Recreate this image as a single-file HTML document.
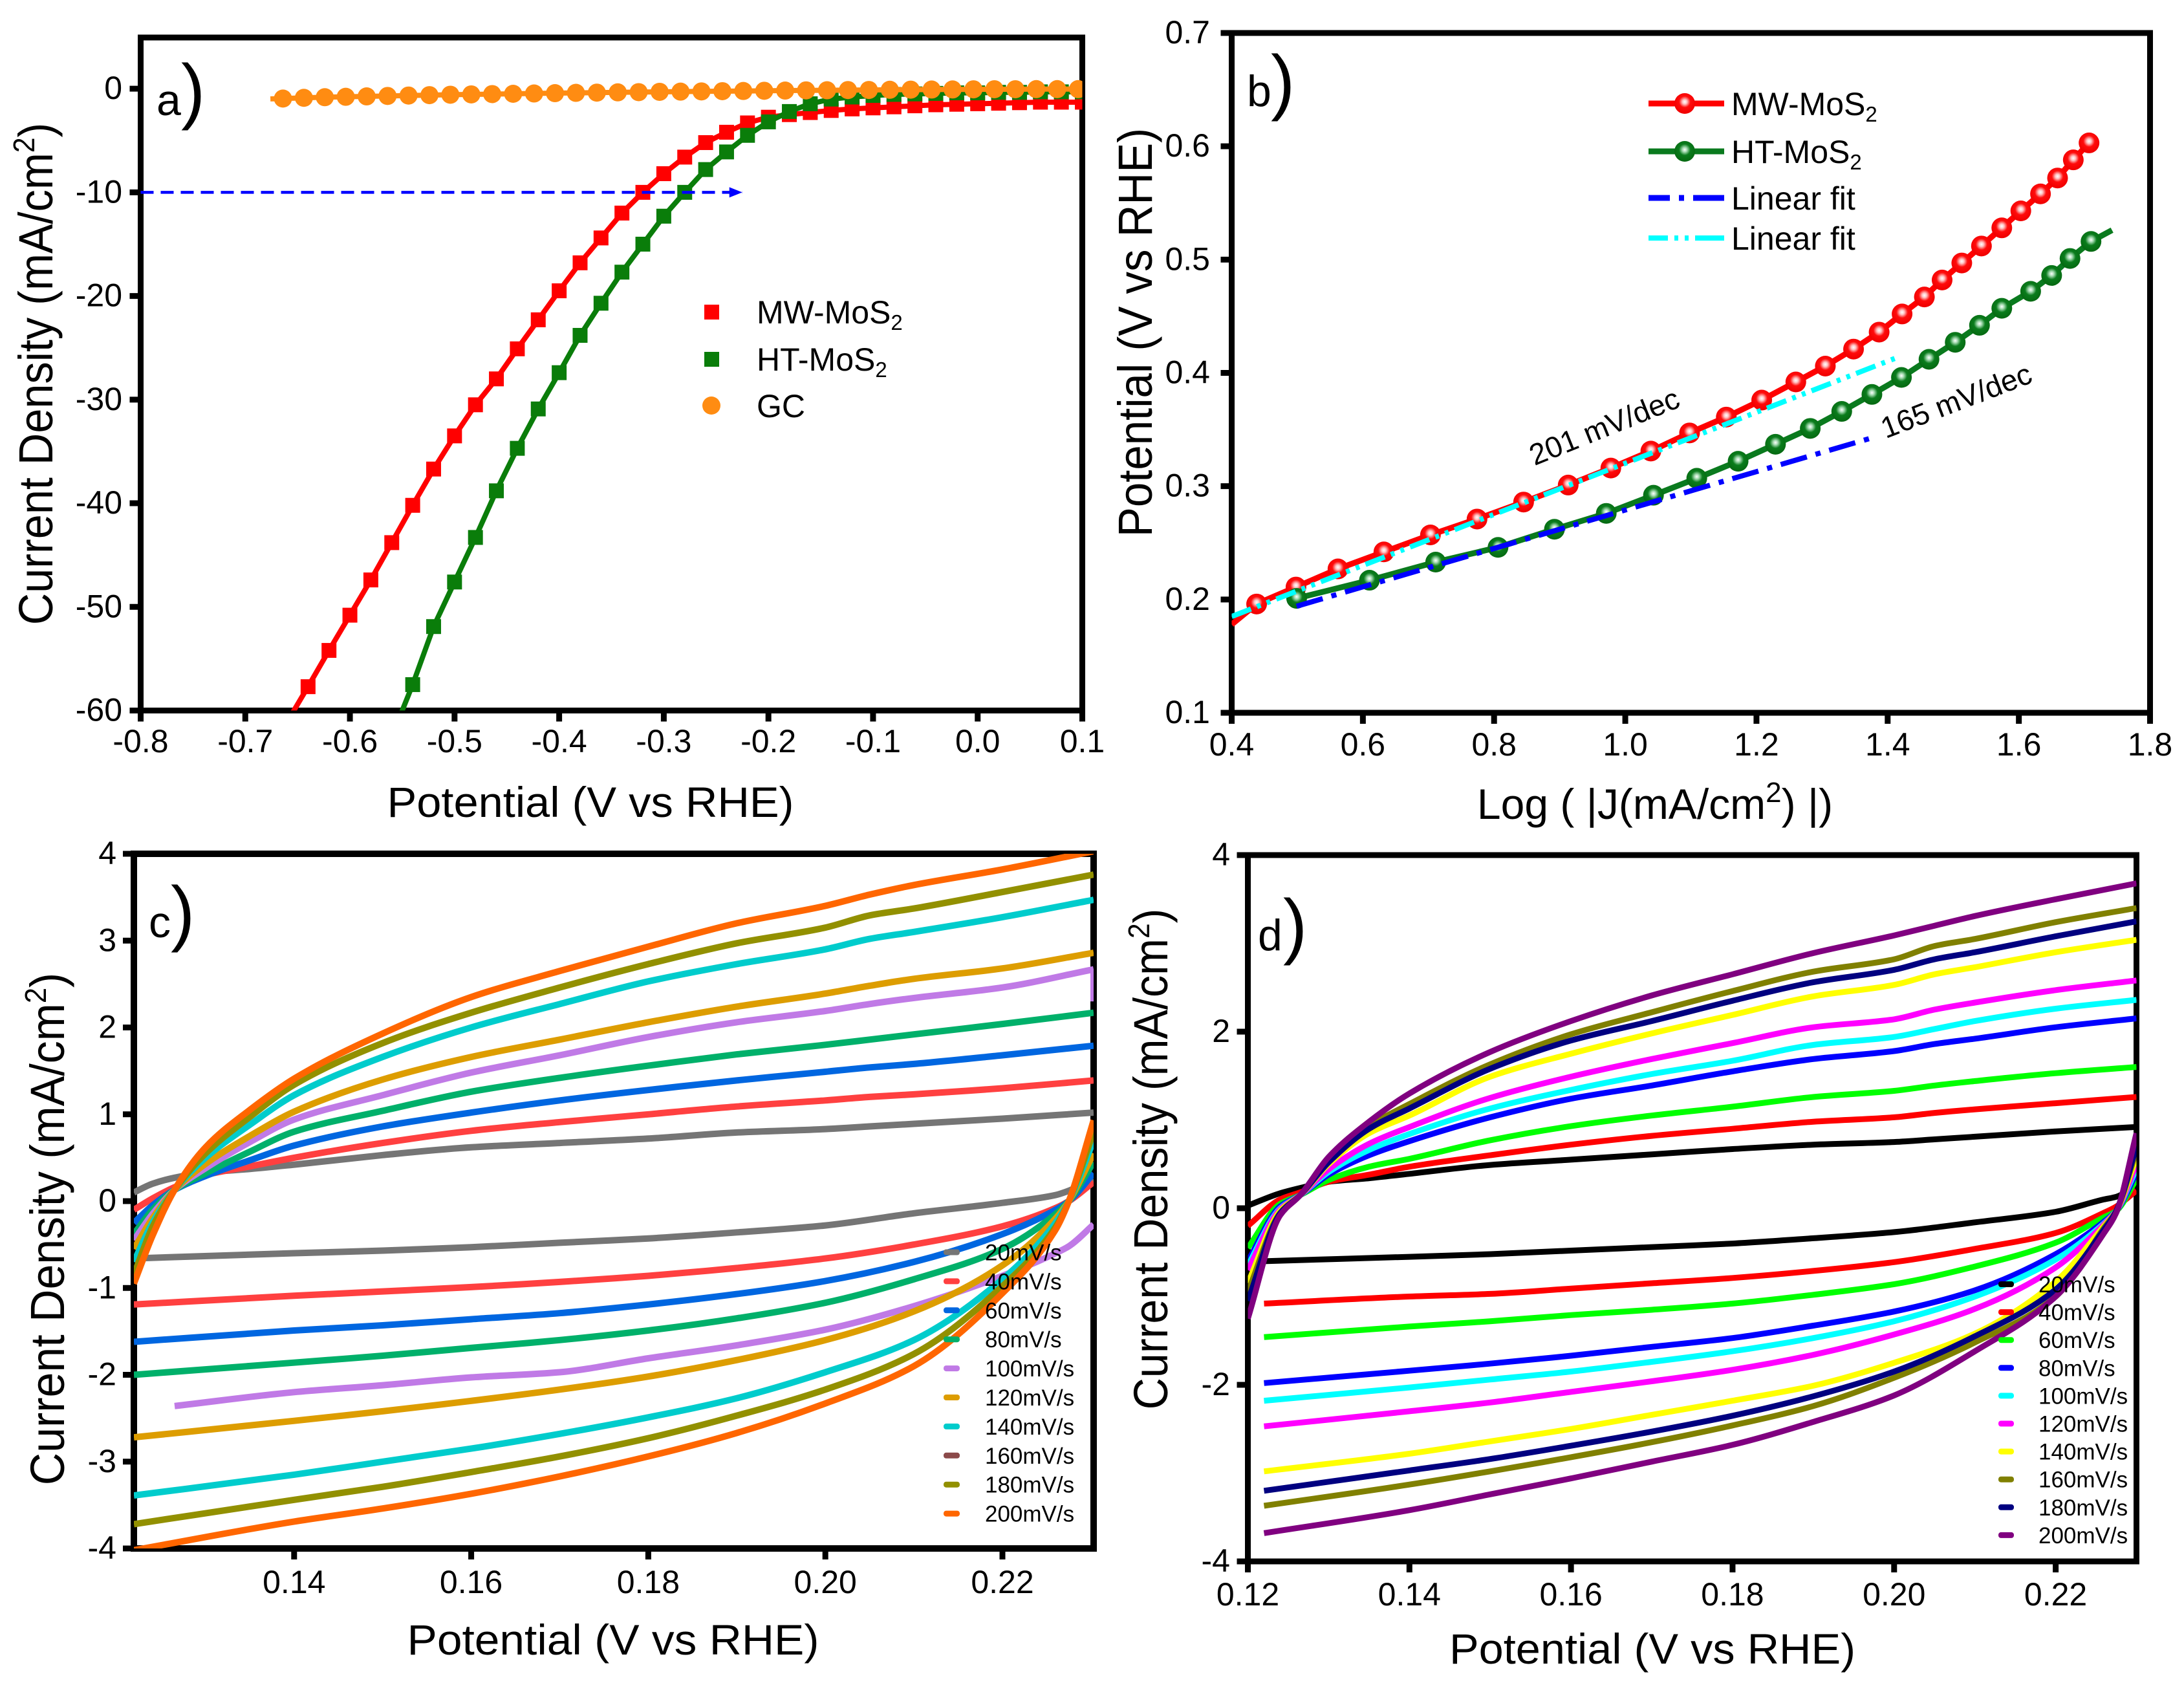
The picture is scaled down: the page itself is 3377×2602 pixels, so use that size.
<!DOCTYPE html>
<html lang="en">
<head>
<meta charset="utf-8">
<title>Electrochemical characterisation of MoS2</title>
<style>
html,body{margin:0;padding:0;background:#fff}
svg{display:block}
text{font-family:"Liberation Sans",Arial,sans-serif;fill:#000}
</style>
</head>
<body>
<svg id="figure" xmlns="http://www.w3.org/2000/svg" width="3377" height="2602" viewBox="0 0 3377 2602">
<defs>
<radialGradient id="redBall" cx="0.5" cy="0.42" r="0.55">
<stop offset="0" stop-color="#ffffff"/><stop offset="0.2" stop-color="#ffc4c4"/><stop offset="0.5" stop-color="#ff0c0c"/><stop offset="1" stop-color="#f00000"/>
</radialGradient>
<radialGradient id="greenBall" cx="0.5" cy="0.42" r="0.55">
<stop offset="0" stop-color="#ffffff"/><stop offset="0.2" stop-color="#a8dcb4"/><stop offset="0.5" stop-color="#0a7c1c"/><stop offset="1" stop-color="#066a12"/>
</radialGradient>
<clipPath id="clipA"><rect x="217.5" y="58" width="1456" height="1040.5"/></clipPath>
<clipPath id="clipB"><rect x="1904.5" y="51" width="1420" height="1051"/></clipPath>
<clipPath id="clipC"><rect x="207" y="1320" width="1484" height="1074"/></clipPath>
<clipPath id="clipD"><rect x="1929.5" y="1322" width="1374" height="1092"/></clipPath>
</defs>

<g id="panelA"></g>
<g id="panelB"></g>
<g id="panelC"></g>
<g id="panelD"></g>

<!-- axis titles -->
<text x="913" y="1263" font-size="66" text-anchor="middle" textLength="629" lengthAdjust="spacingAndGlyphs">Potential (V vs RHE)</text>
<text transform="translate(81,578) rotate(-90) scale(0.925,1)" font-size="74" text-anchor="middle">Current Density (mA/cm<tspan font-size="46" dy="-28">2</tspan><tspan dy="28">)</tspan></text>

<text x="2559" y="1266" font-size="66" text-anchor="middle">Log ( |J(mA/cm<tspan font-size="44" dy="-26">2</tspan><tspan dy="26">) |)</tspan></text>
<text x="0" y="0" transform="translate(1781,514) rotate(-90) scale(0.932,1)" font-size="74" text-anchor="middle">Potential (V vs RHE)</text>

<text x="948" y="2558" font-size="66" text-anchor="middle" textLength="637" lengthAdjust="spacingAndGlyphs">Potential (V vs RHE)</text>
<text transform="translate(99,1900) rotate(-90) scale(0.944,1)" font-size="74" text-anchor="middle">Current Density (mA/cm<tspan font-size="46" dy="-28">2</tspan><tspan dy="28">)</tspan></text>

<text x="2555" y="2572" font-size="66" text-anchor="middle" textLength="628" lengthAdjust="spacingAndGlyphs">Potential (V vs RHE)</text>
<text transform="translate(1805,1792) rotate(-90) scale(0.923,1)" font-size="74" text-anchor="middle">Current Density (mA/cm<tspan font-size="46" dy="-28">2</tspan><tspan dy="28">)</tspan></text>

<!-- panel letters -->
<g><text x="242" y="178" font-size="68">a</text><text x="280" y="178" font-size="112">)</text></g>
<g><text x="1928" y="164" font-size="68">b</text><text x="1965" y="164" font-size="112">)</text></g>
<g><text x="230" y="1449" font-size="68">c</text><text x="264" y="1449" font-size="112">)</text></g>
<g><text x="1945" y="1469" font-size="68">d</text><text x="1984" y="1469" font-size="112">)</text></g>

<!-- panel a legend -->
<g>
<rect x="1089" y="471" width="23" height="23" fill="#ff0000"/>
<text x="1170" y="500" font-size="50">MW-MoS<tspan font-size="33" dy="10">2</tspan></text>
<rect x="1089" y="544" width="23" height="23" fill="#0a7d0a"/>
<text x="1170" y="573" font-size="50">HT-MoS<tspan font-size="33" dy="10">2</tspan></text>
<circle cx="1100" cy="627" r="14" fill="#ff8c12"/>
<text x="1170" y="645" font-size="50">GC</text>
</g>

<!-- panel b legend -->
<g>
<line x1="2549" x2="2666" y1="160" y2="160" stroke="#ff0000" stroke-width="9"/>
<circle cx="2605" cy="160" r="16" fill="url(#redBall)"/>
<text x="2677" y="178" font-size="50">MW-MoS<tspan font-size="33" dy="10">2</tspan></text>
<line x1="2549" x2="2666" y1="234" y2="234" stroke="#0a7a1e" stroke-width="9"/>
<circle cx="2605" cy="234" r="16" fill="url(#greenBall)"/>
<text x="2677" y="252" font-size="50">HT-MoS<tspan font-size="33" dy="10">2</tspan></text>
<line x1="2549" x2="2666" y1="306" y2="306" stroke="#0000ff" stroke-width="9" stroke-dasharray="33 14 8 14 48"/>
<text x="2677" y="324" font-size="50">Linear fit</text>
<line x1="2549" x2="2666" y1="368" y2="368" stroke="#00ffff" stroke-width="8" stroke-dasharray="30 10 6 10 6 10 45"/>
<text x="2677" y="386" font-size="50">Linear fit</text>
</g>

<!-- panel b annotations -->
<text transform="translate(2482,663) rotate(-22)" font-size="46" text-anchor="middle" dominant-baseline="middle">201 mV/dec</text>
<text transform="translate(3026,623) rotate(-21)" font-size="46" text-anchor="middle" dominant-baseline="middle">165 mV/dec</text>

<script>
// ---------- Panel a data ----------
const aXTickVals = [-0.8,-0.7,-0.6,-0.5,-0.4,-0.3,-0.2,-0.1,0.0,0.1];
const aXTickLabels = ['-0.8','-0.7','-0.6','-0.5','-0.4','-0.3','-0.2','-0.1','0.0','0.1'];
const aYTickVals = [0,-10,-20,-30,-40,-50,-60];
const aYTickLabels = ['0','-10','-20','-30','-40','-50','-60'];
const mwPotential = [-0.66,-0.64,-0.62,-0.60,-0.58,-0.56,-0.54,-0.52,-0.50,-0.48,-0.46,-0.44,-0.42,-0.40,-0.38,-0.36,-0.34,-0.32,-0.30,-0.28,-0.26,-0.24,-0.22,-0.20,-0.18,-0.16,-0.14,-0.12,-0.10,-0.08,-0.06,-0.04,-0.02,0,0.02,0.04,0.06,0.08,0.10];
const mwCurrent = [-61.1,-57.7,-54.2,-50.8,-47.4,-43.8,-40.2,-36.7,-33.5,-30.5,-28,-25.1,-22.3,-19.5,-16.8,-14.4,-12,-10,-8.2,-6.6,-5.2,-4.2,-3.3,-2.75,-2.5,-2.3,-2.1,-1.95,-1.85,-1.75,-1.65,-1.55,-1.5,-1.45,-1.4,-1.35,-1.3,-1.3,-1.3];
const htPotential = [-0.56,-0.54,-0.52,-0.50,-0.48,-0.46,-0.44,-0.42,-0.40,-0.38,-0.36,-0.34,-0.32,-0.30,-0.28,-0.26,-0.24,-0.22,-0.20,-0.18,-0.16,-0.14,-0.12,-0.10,-0.08,-0.06,-0.04,-0.02,0,0.02,0.04,0.06,0.08,0.10];
const htCurrent = [-62.5,-57.5,-51.9,-47.6,-43.3,-38.8,-34.7,-30.9,-27.4,-23.8,-20.7,-17.7,-15,-12.3,-10,-7.8,-6.1,-4.5,-3.2,-2.2,-1.45,-1,-0.8,-0.65,-0.55,-0.5,-0.45,-0.4,-0.4,-0.35,-0.35,-0.3,-0.3,-0.3];
const gcPotential = [-0.664,-0.644,-0.624,-0.604,-0.584,-0.564,-0.544,-0.524,-0.504,-0.484,-0.464,-0.444,-0.424,-0.404,-0.384,-0.364,-0.344,-0.324,-0.304,-0.284,-0.264,-0.244,-0.224,-0.204,-0.184,-0.164,-0.144,-0.124,-0.104,-0.084,-0.064,-0.044,-0.024,-0.004,0.016,0.036,0.056,0.076,0.096];
const gcCurrent = [-0.95,-0.88,-0.82,-0.78,-0.74,-0.7,-0.66,-0.62,-0.58,-0.55,-0.52,-0.49,-0.46,-0.43,-0.4,-0.38,-0.35,-0.33,-0.3,-0.28,-0.26,-0.24,-0.22,-0.2,-0.18,-0.16,-0.15,-0.13,-0.12,-0.1,-0.09,-0.08,-0.07,-0.06,-0.05,-0.05,-0.04,-0.04,-0.04];
const arrowPotential = [-0.8,-0.225];
const arrowCurrent = [-10,-10];

// ---------- Panel b data ----------
const bXTickVals = [0.4,0.6,0.8,1.0,1.2,1.4,1.6,1.8];
const bXTickLabels = ['0.4','0.6','0.8','1.0','1.2','1.4','1.6','1.8'];
const bYTickVals = [0.1,0.2,0.3,0.4,0.5,0.6,0.7];
const bYTickLabels = ['0.1','0.2','0.3','0.4','0.5','0.6','0.7'];
const mwLogJ = [0.438,0.498,0.562,0.632,0.703,0.774,0.845,0.913,0.978,1.039,1.098,1.154,1.208,1.26,1.305,1.348,1.387,1.422,1.456,1.483,1.513,1.543,1.574,1.603,1.633,1.659,1.683,1.707];
const mwEta = [0.196,0.211,0.227,0.242,0.257,0.271,0.286,0.301,0.316,0.331,0.347,0.361,0.376,0.392,0.406,0.421,0.436,0.452,0.467,0.482,0.497,0.512,0.528,0.543,0.558,0.572,0.588,0.603];
const mwLeadLogJ = [0.4];
const mwLeadEta = [0.178];
const htLogJ = [0.499,0.61,0.711,0.806,0.892,0.971,1.043,1.109,1.172,1.229,1.282,1.33,1.376,1.421,1.463,1.503,1.54,1.574,1.618,1.65,1.678,1.71];
const htEta = [0.201,0.217,0.233,0.246,0.262,0.276,0.292,0.307,0.322,0.337,0.351,0.366,0.381,0.396,0.412,0.427,0.442,0.457,0.472,0.486,0.501,0.516];
const htTailLogJ = [1.742];
const htTailEta = [0.526];
const blueFitLogJ = [0.499,1.372];
const blueFitEta = [0.194,0.342];
const cyanFitLogJ = [0.4,1.412];
const cyanFitEta = [0.185,0.413];

// ---------- Panel c data ----------
const cXTickVals = [0.14,0.16,0.18,0.20,0.22];
const cXTickLabels = ['0.14','0.16','0.18','0.20','0.22'];
const cYTickVals = [-4,-3,-2,-1,0,1,2,3,4];
const cYTickLabels = ['-4','-3','-2','-1','0','1','2','3','4'];
const cLegendLabels = ['20mV/s','40mV/s','60mV/s','80mV/s','100mV/s','120mV/s','140mV/s','160mV/s','180mV/s','200mV/s'];
const cUpperX = [0.1219,0.124,0.1265,0.13,0.135,0.14,0.15,0.16,0.17,0.18,0.19,0.20,0.205,0.21,0.22,0.2303];
const cLowerX = [0.1219,0.14,0.15,0.16,0.17,0.18,0.19,0.20,0.21,0.22,0.226,0.2275,0.2303];
const c100LowerX = [0.1265,0.14,0.15,0.16,0.17,0.18,0.19,0.20,0.21,0.22,0.226,0.2275,0.2303];
const c100HookX = [0.2303,0.2303];
const c100HookY = [2.67,2.3];
const cUp20 = [0.1,0.2,0.27,0.33,0.37,0.42,0.53,0.62,0.67,0.72,0.79,0.83,0.86,0.89,0.95,1.02];
const cUp40 = [-0.1,0.03,0.16,0.3,0.4,0.5,0.67,0.81,0.91,1.0,1.09,1.16,1.2,1.23,1.3,1.39];
const cUp60 = [-0.25,-0.05,0.13,0.29,0.47,0.64,0.86,1.02,1.16,1.28,1.39,1.49,1.54,1.58,1.68,1.79];
const cUp80 = [-0.38,-0.1,0.13,0.32,0.57,0.8,1.04,1.26,1.42,1.56,1.69,1.8,1.86,1.92,2.04,2.17];
const cUp100 = [-0.45,-0.15,0.13,0.38,0.68,0.94,1.22,1.48,1.68,1.89,2.06,2.19,2.27,2.34,2.46,2.67];
const cUp120 = [-0.55,-0.2,0.13,0.43,0.75,1.03,1.4,1.66,1.86,2.06,2.24,2.39,2.48,2.56,2.68,2.86];
const cUp140 = [-0.7,-0.25,0.13,0.5,0.88,1.22,1.66,2.0,2.27,2.53,2.73,2.9,3.02,3.1,3.27,3.47];
const cUp180 = [-0.85,-0.3,0.13,0.55,0.97,1.34,1.82,2.17,2.46,2.73,2.97,3.15,3.29,3.37,3.56,3.76];
const cUp200 = [-0.95,-0.4,0.13,0.62,1.05,1.41,1.93,2.35,2.65,2.93,3.2,3.4,3.53,3.64,3.82,4.03];
const cLow20 = [-0.66,-0.6,-0.57,-0.53,-0.48,-0.43,-0.36,-0.28,-0.14,-0.02,0.07,0.12,0.25];
const cLow40 = [-1.19,-1.09,-1.04,-0.99,-0.93,-0.86,-0.77,-0.66,-0.5,-0.29,-0.08,0,0.22];
const cLow60 = [-1.62,-1.49,-1.43,-1.36,-1.29,-1.19,-1.07,-0.92,-0.7,-0.38,-0.1,0,0.32];
const cLow80 = [-2.0,-1.86,-1.78,-1.69,-1.6,-1.49,-1.35,-1.17,-0.9,-0.55,-0.15,0,0.45];
const cLow100 = [-2.36,-2.2,-2.12,-2.03,-1.97,-1.81,-1.66,-1.48,-1.21,-0.86,-0.6,-0.52,-0.27];
const cLow120 = [-2.72,-2.53,-2.42,-2.3,-2.17,-2.02,-1.83,-1.6,-1.27,-0.74,-0.2,0,0.55];
const cLow140 = [-3.39,-3.15,-3.0,-2.85,-2.68,-2.49,-2.27,-1.97,-1.6,-0.9,-0.25,0,0.7];
const cLow180 = [-3.72,-3.44,-3.29,-3.12,-2.94,-2.73,-2.47,-2.17,-1.76,-0.98,-0.3,0,0.8];
const cLow200 = [-4.02,-3.69,-3.54,-3.37,-3.17,-2.94,-2.67,-2.33,-1.9,-1.06,-0.33,0,0.93];

// ---------- Panel d data ----------
const dXTickVals = [0.12,0.14,0.16,0.18,0.20,0.22];
const dXTickLabels = ['0.12','0.14','0.16','0.18','0.20','0.22'];
const dYTickVals = [-4,-2,0,2,4];
const dYTickLabels = ['-4','-2','0','2','4'];
const dLegendLabels = ['20mV/s','40mV/s','60mV/s','80mV/s','100mV/s','120mV/s','140mV/s','160mV/s','180mV/s','200mV/s'];
const dUpperX = [0.12,0.124,0.1265,0.13,0.135,0.14,0.15,0.16,0.17,0.18,0.19,0.20,0.205,0.21,0.22,0.23];
const dLowerX = [0.122,0.14,0.15,0.16,0.17,0.18,0.19,0.20,0.21,0.22,0.226,0.2275,0.23];
const dUp20 = [0.03,0.17,0.23,0.3,0.34,0.39,0.49,0.55,0.61,0.67,0.72,0.75,0.78,0.81,0.87,0.92];
const dUp40 = [-0.2,0.1,0.18,0.3,0.38,0.47,0.6,0.72,0.82,0.9,0.98,1.03,1.08,1.12,1.19,1.26];
const dUp60 = [-0.45,0.05,0.15,0.32,0.47,0.56,0.77,0.93,1.05,1.15,1.26,1.33,1.39,1.44,1.53,1.6];
const dUp80 = [-0.6,0.02,0.15,0.38,0.6,0.76,1.03,1.24,1.39,1.55,1.69,1.78,1.86,1.92,2.05,2.15];
const dUp100 = [-0.65,0,0.15,0.41,0.66,0.84,1.13,1.34,1.52,1.67,1.85,1.94,2.03,2.12,2.26,2.36];
const dUp120 = [-0.7,-0.01,0.15,0.44,0.73,0.92,1.25,1.49,1.69,1.87,2.05,2.14,2.25,2.33,2.47,2.58];
const dUp140 = [-0.85,-0.03,0.15,0.5,0.85,1.05,1.49,1.75,1.98,2.19,2.4,2.53,2.65,2.73,2.9,3.04];
const dUp160 = [-0.95,-0.05,0.15,0.54,0.93,1.18,1.63,1.97,2.22,2.46,2.68,2.82,2.97,3.05,3.24,3.4];
const dUp180 = [-1.05,-0.06,0.15,0.52,0.9,1.13,1.58,1.9,2.12,2.35,2.56,2.7,2.82,2.9,3.08,3.25];
const dUp200 = [-1.25,-0.08,0.15,0.58,0.98,1.3,1.77,2.12,2.41,2.65,2.89,3.09,3.2,3.31,3.5,3.68];
const dLow20 = [-0.6,-0.55,-0.52,-0.48,-0.44,-0.4,-0.34,-0.27,-0.16,-0.04,0.1,0.13,0.25];
const dLow40 = [-1.08,-1.0,-0.97,-0.91,-0.85,-0.79,-0.71,-0.61,-0.46,-0.28,-0.05,0.02,0.2];
const dLow60 = [-1.46,-1.34,-1.28,-1.21,-1.15,-1.08,-0.98,-0.86,-0.66,-0.39,-0.1,-0.03,0.33];
const dLow80 = [-1.98,-1.84,-1.76,-1.67,-1.57,-1.47,-1.33,-1.17,-0.93,-0.52,-0.15,-0.03,0.4];
const dLow100 = [-2.18,-2.03,-1.94,-1.85,-1.74,-1.62,-1.47,-1.28,-1.0,-0.58,-0.17,-0.03,0.45];
const dLow120 = [-2.47,-2.3,-2.2,-2.08,-1.96,-1.83,-1.66,-1.43,-1.14,-0.67,-0.18,-0.03,0.5];
const dLow140 = [-2.98,-2.78,-2.64,-2.5,-2.34,-2.18,-2.01,-1.75,-1.42,-0.83,-0.2,-0.03,0.58];
const dLow160 = [-3.37,-3.13,-2.98,-2.82,-2.65,-2.46,-2.24,-1.92,-1.52,-1.0,-0.22,-0.03,0.65];
const dLow180 = [-3.2,-2.97,-2.84,-2.69,-2.53,-2.35,-2.13,-1.85,-1.45,-0.92,-0.24,-0.03,0.7];
const dLow200 = [-3.68,-3.42,-3.24,-3.06,-2.87,-2.68,-2.42,-2.12,-1.62,-1.0,-0.28,-0.05,0.85];

const NS = 'http://www.w3.org/2000/svg';
function make(tag, attrs, parent) {
  const el = document.createElementNS(NS, tag);
  for (const k in attrs) el.setAttribute(k, attrs[k]);
  if (parent) parent.appendChild(el);
  return el;
}
function makePanel(cfg) {
  const scaleX = v => cfg.L + (v - cfg.xMin) / (cfg.xMax - cfg.xMin) * (cfg.R - cfg.L);
  const scaleY = v => cfg.B - (v - cfg.yMin) / (cfg.yMax - cfg.yMin) * (cfg.B - cfg.T);
  return Object.assign({}, cfg, { scaleX, scaleY });
}
function drawAxes(p) {
  const root = document.getElementById(p.rootId);
  const frame = make('rect', { x: p.L, y: p.T, width: p.R - p.L, height: p.B - p.T, fill: 'none', stroke: '#000', 'stroke-width': p.frameW }, root);
  
  
  p.xTicks.forEach((v, i) => {
    const x = p.scaleX(v);
    const t = make('line', { x1: x, x2: x, y1: p.B, y2: p.B + 17, stroke: '#000', 'stroke-width': 9 }, root);
    
    
    const l = make('text', { x: x, y: p.xLabelY, 'font-size': 50, 'text-anchor': 'middle' }, root);
    
    
    l.textContent = p.xLabels[i];
  });
  p.yTicks.forEach((v, i) => {
    const y = p.scaleY(v);
    const t = make('line', { x1: p.L - 17, x2: p.L, y1: y, y2: y, stroke: '#000', 'stroke-width': 9 }, root);
    
    
    const l = make('text', { x: p.yLabelX, y: y + 16, 'font-size': 50, 'text-anchor': 'end' }, root);
    
    
    l.textContent = p.yLabels[i];
  });
  return make('g', { 'clip-path': 'url(#' + p.clip + ')' }, root);
}
function pathOf(p, xs, ys) {
  return xs.map((x, i) => (i ? 'L' : 'M') + p.scaleX(x).toFixed(1) + ' ' + p.scaleY(ys[i]).toFixed(1)).join(' ');
}
// Monotone cubic interpolation through the data points (keeps CV loops smooth)
function smoothPathOf(p, xs, ys) {
  const X = xs.map(p.scaleX);
  const Y = ys.map(p.scaleY);
  const n = X.length;
  const d = [];
  for (let i = 0; i < n - 1; i++) d.push((Y[i + 1] - Y[i]) / (X[i + 1] - X[i]));
  const m = [d[0]];
  for (let i = 1; i < n - 1; i++) {
    if (d[i - 1] * d[i] <= 0) { m.push(0); continue; }
    const h0 = X[i] - X[i - 1];
    const h1 = X[i + 1] - X[i];
    const w1 = 2 * h1 + h0;
    const w2 = h1 + 2 * h0;
    m.push((w1 + w2) / (w1 / d[i - 1] + w2 / d[i]));
  }
  m.push(d[n - 2]);
  let s = 'M' + X[0].toFixed(1) + ' ' + Y[0].toFixed(1);
  for (let i = 0; i < n - 1; i++) {
    const h = (X[i + 1] - X[i]) / 3;
    s += ' C' + (X[i] + h).toFixed(1) + ' ' + (Y[i] + m[i] * h).toFixed(1) + ' ' +
      (X[i + 1] - h).toFixed(1) + ' ' + (Y[i + 1] - m[i + 1] * h).toFixed(1) + ' ' +
      X[i + 1].toFixed(1) + ' ' + Y[i + 1].toFixed(1);
  }
  return s;
}
function drawCurve(p, g, xs, ys, color, width, dash) {
  const el = make('path', { d: pathOf(p, xs, ys), fill: 'none', stroke: color, 'stroke-width': width, 'stroke-linejoin': 'round' }, g);
  if (dash) el.setAttribute('stroke-dasharray', dash);
  return el;
}
function drawSmooth(p, g, xs, ys, color, width) {
  return make('path', { d: smoothPathOf(p, xs, ys), fill: 'none', stroke: color, 'stroke-width': width, 'stroke-linejoin': 'round' }, g);
}

// ----- Panel a -----
const pa = makePanel({ rootId: 'panelA', prefix: 'panel-a', clip: 'clipA', L: 217.5, R: 1673.5, T: 58, B: 1098.5, xMin: -0.8, xMax: 0.1, yMin: -60, yMax: 4.94, frameW: 9, xTicks: aXTickVals, xLabels: aXTickLabels, yTicks: aYTickVals, yLabels: aYTickLabels, xLabelY: 1163, yLabelX: 189 });
const ga = drawAxes(pa);
const mwLine = drawCurve(pa, ga, mwPotential, mwCurrent, '#ff0000', 8);


mwPotential.forEach((x, i) => {
  const m = make('rect', { x: pa.scaleX(x) - 11.5, y: pa.scaleY(mwCurrent[i]) - 11.5, width: 23, height: 23, fill: '#ff0000' }, ga);
  
  
});
const htLine = drawCurve(pa, ga, htPotential, htCurrent, '#0a7d0a', 8);


htPotential.forEach((x, i) => {
  const m = make('rect', { x: pa.scaleX(x) - 11.5, y: pa.scaleY(htCurrent[i]) - 11.5, width: 23, height: 23, fill: '#0a7d0a' }, ga);
  
  
});
const gcLine = drawCurve(pa, ga, [-0.676].concat(gcPotential), [-0.98].concat(gcCurrent), '#ff8c12', 8);


gcPotential.forEach((x, i) => {
  const m = make('circle', { cx: pa.scaleX(x), cy: pa.scaleY(gcCurrent[i]), r: 14, fill: '#ff8c12' }, ga);
  
  
});
const arrowLine = drawCurve(pa, ga, arrowPotential, arrowCurrent, '#0000ff', 4.5, '20 11');


const ax = pa.scaleX(arrowPotential[1]);
const ay = pa.scaleY(arrowCurrent[1]);
const arrowHead = make('polygon', { points: (ax - 20) + ',' + (ay - 8) + ' ' + ax + ',' + ay + ' ' + (ax - 20) + ',' + (ay + 8), fill: '#0000ff' }, ga);



// ----- Panel b -----
const pb = makePanel({ rootId: 'panelB', prefix: 'panel-b', clip: 'clipB', L: 1904.5, R: 3324.5, T: 51, B: 1102, xMin: 0.4, xMax: 1.8, yMin: 0.1, yMax: 0.7, frameW: 9, xTicks: bXTickVals, xLabels: bXTickLabels, yTicks: bYTickVals, yLabels: bYTickLabels, xLabelY: 1168, yLabelX: 1871 });
const gb = drawAxes(pb);
const mwbLine = drawCurve(pb, gb, mwLeadLogJ.concat(mwLogJ), mwLeadEta.concat(mwEta), '#ff0000', 9);


mwLogJ.forEach((x, i) => {
  const m = make('circle', { cx: pb.scaleX(x), cy: pb.scaleY(mwEta[i]), r: 16, fill: 'url(#redBall)' }, gb);
  
  
});
const htbLine = drawCurve(pb, gb, htLogJ.concat(htTailLogJ), htEta.concat(htTailEta), '#0a7a1e', 9);


htLogJ.forEach((x, i) => {
  const m = make('circle', { cx: pb.scaleX(x), cy: pb.scaleY(htEta[i]), r: 16, fill: 'url(#greenBall)' }, gb);
  
  
});
const blueFit = drawCurve(pb, gb, blueFitLogJ, blueFitEta, '#0000ff', 8, '42 14 8 14');


const cyanFit = drawCurve(pb, gb, cyanFitLogJ, cyanFitEta, '#00ffff', 8, '32 10 6 10 6 10');



// ----- Panel c -----
const pc = makePanel({ rootId: 'panelC', prefix: 'panel-c', clip: 'clipC', L: 207, R: 1691, T: 1320, B: 2394, xMin: 0.1219, xMax: 0.2303, yMin: -4, yMax: 4, frameW: 10, xTicks: cXTickVals, xLabels: cXTickLabels, yTicks: cYTickVals, yLabels: cYTickLabels, xLabelY: 2463, yLabelX: 180 });
const gc = drawAxes(pc);
const cSeriesColors = ['#757575','#ff4040','#0066e0','#00b06a','#c07ae6','#dd9d00','#00cccc','#8b4a4a','#929000','#ff6600'];
const cSeriesUpper = [cUp20,cUp40,cUp60,cUp80,cUp100,cUp120,cUp140,null,cUp180,cUp200];
const cSeriesLower = [cLow20,cLow40,cLow60,cLow80,cLow100,cLow120,cLow140,null,cLow180,cLow200];
cSeriesUpper.forEach((up, i) => {
  if (!up) return;
  const a = drawSmooth(pc, gc, cUpperX, up, cSeriesColors[i], 10);
  
  
  const lowX = i === 4 ? c100LowerX : cLowerX;
  const b = drawSmooth(pc, gc, lowX, cSeriesLower[i], cSeriesColors[i], 10);
  
  
});
const hook = drawCurve(pc, gc, c100HookX, c100HookY, cSeriesColors[4], 10);


const cLegend = make('g', {}, document.getElementById('panelC'));


cLegendLabels.forEach((label, i) => {
  const cy = 1936 + i * 44.9;
  const s = make('rect', { x: 1459, y: cy - 4.5, width: 25, height: 9, rx: 4, fill: cSeriesColors[i] }, cLegend);
  
  
  const t = make('text', { x: 1523, y: cy + 12.5, 'font-size': 35 }, cLegend);
  
  
  t.textContent = label;
});

// ----- Panel d -----
const pd = makePanel({ rootId: 'panelD', prefix: 'panel-d', clip: 'clipD', L: 1929.5, R: 3303.5, T: 1322, B: 2414, xMin: 0.12, xMax: 0.23, yMin: -4, yMax: 4, frameW: 9, xTicks: dXTickVals, xLabels: dXTickLabels, yTicks: dYTickVals, yLabels: dYTickLabels, xLabelY: 2482, yLabelX: 1902 });
const gd = drawAxes(pd);
const dSeriesColors = ['#000000','#ff0000','#00ff00','#0000ff','#00ffff','#ff00ff','#ffff00','#808000','#000080','#800080'];
const dSeriesUpper = [dUp20,dUp40,dUp60,dUp80,dUp100,dUp120,dUp140,dUp160,dUp180,dUp200];
const dSeriesLower = [dLow20,dLow40,dLow60,dLow80,dLow100,dLow120,dLow140,dLow160,dLow180,dLow200];
dSeriesUpper.forEach((up, i) => {
  const a = drawSmooth(pd, gd, dUpperX, up, dSeriesColors[i], 9);
  
  
  const b = drawSmooth(pd, gd, dLowerX, dSeriesLower[i], dSeriesColors[i], 9);
  
  
});
const dLegend = make('g', {}, document.getElementById('panelD'));


dLegendLabels.forEach((label, i) => {
  const cy = 1985.5 + i * 43.1;
  const s = make('rect', { x: 3090, y: cy - 4.5, width: 24, height: 9, rx: 4, fill: dSeriesColors[i] }, dLegend);
  
  
  const t = make('text', { x: 3152, y: cy + 12.5, 'font-size': 35 }, dLegend);
  
  
  t.textContent = label;
});
</script>
</svg>
</body>
</html>
